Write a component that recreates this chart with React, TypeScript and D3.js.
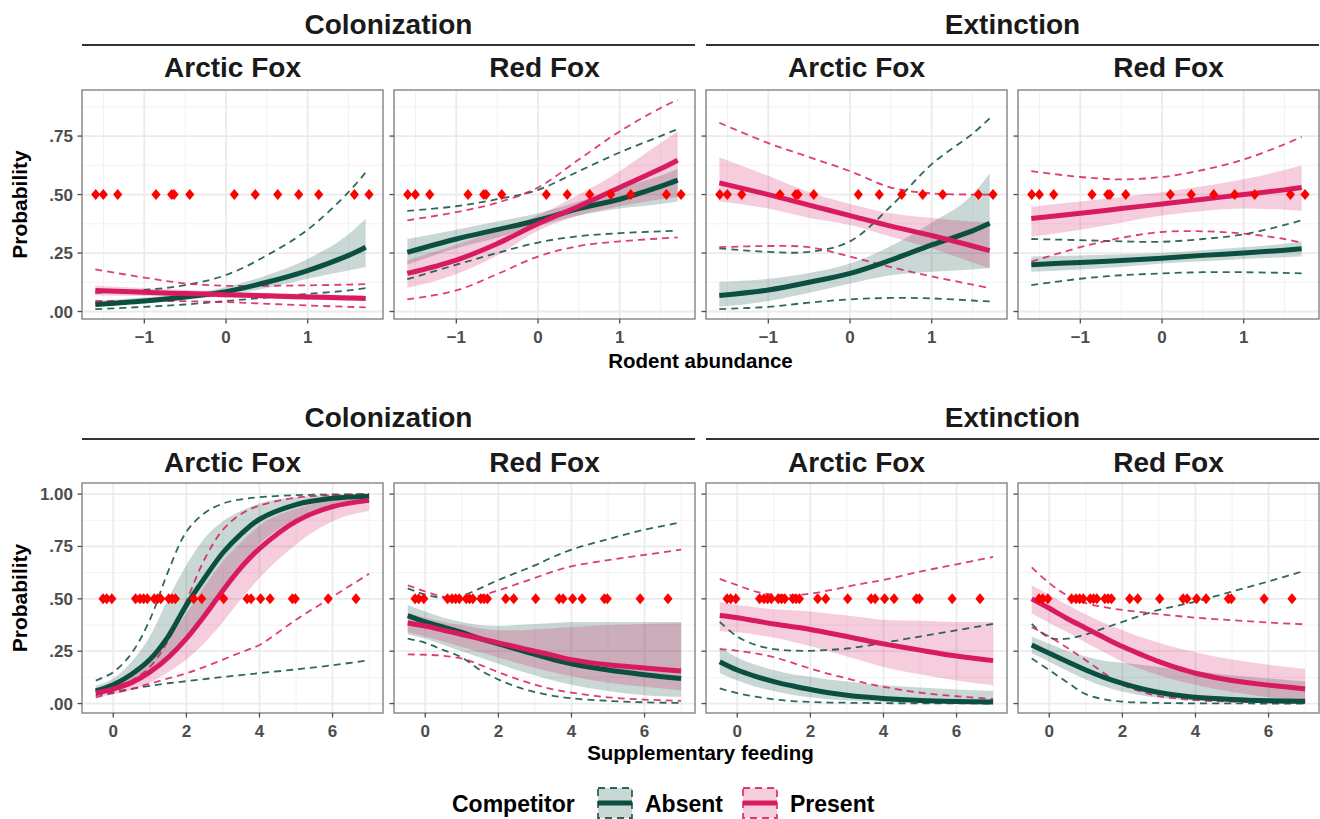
import React from 'react';
import * as d3 from 'd3';

// colours of the two competitor groups
const GREEN = '#0B4F40';
const PINK = '#D81B60';

const processes = ['Colonization', 'Extinction'];
const species = ['Arctic Fox', 'Red Fox'];
const competitorLabels = ['Absent', 'Present'];

// x values where the fitted curves were read
const rodentX = [-1.6, -1, -0.5, 0, 0.5, 1, 1.5, 1.71];
const feedingX = [-0.48, 0, 0.5, 1, 1.5, 2, 2.5, 3, 3.5, 4, 5, 6, 7];

// observed covariate values (drawn at p = .50)
const rodentPoints = [-1.595, -1.502, -1.326, -0.857, -0.665, -0.636, -0.444, 0.102, 0.358, 0.633, 0.89, 1.135, 1.572, 1.751];
const feedingPoints = [-0.28, -0.18, -0.04, 0.61, 0.73, 0.83, 0.93, 1.12, 1.21, 1.3, 1.52, 1.61, 1.7, 2.2, 2.42, 3.02, 3.66, 3.77, 4.03, 4.29, 4.9, 4.98, 5.88, 6.64];

// tick labels
const rodentTicks = [-1, 0, 1];
const rodentTickLabels = ['\u22121', '0', '1'];
const feedingTicks = [0, 2, 4, 6];
const feedingTickLabels = ['0', '2', '4', '6'];
const probTicksTop = [0, 0.25, 0.5, 0.75];
const probTicksBottom = [0, 0.25, 0.5, 0.75, 1];
const probTickLabels = ['.00', '.25', '.50', '.75', '1.00'];

// ---- Rodent abundance: Colonization, Arctic Fox
const caR_absFit = [0.03, 0.045, 0.062, 0.085, 0.125, 0.175, 0.24, 0.275];
const caR_absLo = [0.022, 0.035, 0.05, 0.07, 0.1, 0.14, 0.175, 0.19];
const caR_absHi = [0.045, 0.06, 0.075, 0.105, 0.155, 0.225, 0.33, 0.395];
const caR_absDLo = [0.01, 0.02, 0.03, 0.045, 0.06, 0.075, 0.09, 0.1];
const caR_absDHi = [0.08, 0.092, 0.113, 0.156, 0.24, 0.35, 0.51, 0.595];
const caR_preFit = [0.09, 0.082, 0.077, 0.072, 0.067, 0.062, 0.058, 0.056];
const caR_preLo = [0.07, 0.066, 0.063, 0.06, 0.055, 0.05, 0.046, 0.045];
const caR_preHi = [0.11, 0.1, 0.092, 0.085, 0.08, 0.075, 0.07, 0.068];
const caR_preDLo = [0.045, 0.045, 0.044, 0.04, 0.033, 0.026, 0.02, 0.018];
const caR_preDHi = [0.18, 0.145, 0.12, 0.11, 0.11, 0.112, 0.115, 0.117];

// ---- Rodent abundance: Colonization, Red Fox
const crR_absFit = [0.253, 0.31, 0.35, 0.39, 0.44, 0.48, 0.535, 0.562];
const crR_absLo = [0.2, 0.27, 0.315, 0.365, 0.41, 0.44, 0.46, 0.47];
const crR_absHi = [0.31, 0.35, 0.385, 0.42, 0.47, 0.53, 0.58, 0.61];
const crR_absDLo = [0.138, 0.2, 0.25, 0.295, 0.322, 0.335, 0.343, 0.345];
const crR_absDHi = [0.43, 0.45, 0.48, 0.52, 0.6, 0.68, 0.75, 0.78];
const crR_preFit = [0.163, 0.22, 0.29, 0.375, 0.45, 0.53, 0.61, 0.647];
const crR_preLo = [0.1, 0.16, 0.24, 0.345, 0.41, 0.45, 0.48, 0.49];
const crR_preHi = [0.22, 0.285, 0.345, 0.41, 0.5, 0.6, 0.72, 0.77];
const crR_preDLo = [0.052, 0.09, 0.16, 0.235, 0.28, 0.3, 0.312, 0.317];
const crR_preDHi = [0.39, 0.425, 0.465, 0.53, 0.65, 0.77, 0.87, 0.905];

// ---- Rodent abundance: Extinction, Arctic Fox
const eaR_absFit = [0.068, 0.092, 0.125, 0.163, 0.22, 0.285, 0.345, 0.377];
const eaR_absLo = [0.02, 0.045, 0.08, 0.12, 0.155, 0.17, 0.18, 0.185];
const eaR_absHi = [0.127, 0.14, 0.165, 0.205, 0.28, 0.38, 0.5, 0.59];
const eaR_absDLo = [0.01, 0.02, 0.038, 0.052, 0.058, 0.056, 0.047, 0.043];
const eaR_absDHi = [0.27, 0.255, 0.255, 0.3, 0.45, 0.63, 0.76, 0.826];
const eaR_preFit = [0.55, 0.5, 0.455, 0.41, 0.365, 0.325, 0.28, 0.26];
const eaR_preLo = [0.47, 0.44, 0.4, 0.37, 0.32, 0.27, 0.21, 0.185];
const eaR_preHi = [0.66, 0.58, 0.51, 0.46, 0.42, 0.4, 0.385, 0.38];
const eaR_preDLo = [0.275, 0.28, 0.275, 0.235, 0.19, 0.15, 0.115, 0.1];
const eaR_preDHi = [0.807, 0.72, 0.66, 0.6, 0.53, 0.505, 0.5, 0.5];

// ---- Rodent abundance: Extinction, Red Fox
const erR_absFit = [0.2, 0.21, 0.218, 0.228, 0.24, 0.25, 0.262, 0.268];
const erR_absLo = [0.17, 0.18, 0.19, 0.205, 0.215, 0.225, 0.232, 0.235];
const erR_absHi = [0.235, 0.24, 0.245, 0.25, 0.262, 0.275, 0.29, 0.3];
const erR_absDLo = [0.113, 0.14, 0.155, 0.163, 0.168, 0.168, 0.165, 0.163];
const erR_absDHi = [0.31, 0.305, 0.3, 0.298, 0.31, 0.33, 0.37, 0.39];
const erR_preFit = [0.398, 0.42, 0.44, 0.46, 0.48, 0.5, 0.52, 0.53];
const erR_preLo = [0.32, 0.35, 0.38, 0.41, 0.43, 0.44, 0.435, 0.43];
const erR_preHi = [0.448, 0.47, 0.49, 0.51, 0.535, 0.565, 0.605, 0.625];
const erR_preDLo = [0.213, 0.275, 0.315, 0.34, 0.343, 0.333, 0.31, 0.294];
const erR_preDHi = [0.6, 0.575, 0.565, 0.575, 0.605, 0.65, 0.715, 0.747];

// ---- Supplementary feeding: Colonization, Arctic Fox
const caF_absFit = [0.06, 0.09, 0.14, 0.21, 0.32, 0.47, 0.6, 0.72, 0.81, 0.88, 0.95, 0.98, 0.99];
const caF_absLo = [0.04, 0.06, 0.09, 0.14, 0.2, 0.3, 0.43, 0.55, 0.66, 0.76, 0.88, 0.94, 0.97];
const caF_absHi = [0.085, 0.12, 0.2, 0.32, 0.5, 0.66, 0.79, 0.87, 0.92, 0.955, 0.985, 0.995, 1.0];
const caF_absDLo = [0.04, 0.055, 0.07, 0.085, 0.097, 0.107, 0.117, 0.127, 0.136, 0.145, 0.163, 0.183, 0.207];
const caF_absDHi = [0.11, 0.15, 0.24, 0.4, 0.63, 0.82, 0.91, 0.955, 0.975, 0.985, 0.995, 0.998, 1.0];
const caF_preFit = [0.05, 0.07, 0.1, 0.15, 0.22, 0.31, 0.42, 0.54, 0.65, 0.74, 0.87, 0.94, 0.97];
const caF_preLo = [0.03, 0.045, 0.065, 0.1, 0.15, 0.21, 0.29, 0.39, 0.5, 0.6, 0.76, 0.87, 0.92];
const caF_preHi = [0.075, 0.1, 0.14, 0.21, 0.31, 0.43, 0.56, 0.68, 0.77, 0.85, 0.93, 0.97, 0.985];
const caF_preDLo = [0.03, 0.05, 0.07, 0.095, 0.12, 0.145, 0.175, 0.21, 0.245, 0.28, 0.4, 0.51, 0.62];
const caF_preDHi = [0.06, 0.08, 0.11, 0.175, 0.3, 0.49, 0.69, 0.83, 0.905, 0.945, 0.983, 0.995, 1.0];

// ---- Supplementary feeding: Colonization, Red Fox
const crF_absFit = [0.42, 0.39, 0.365, 0.34, 0.31, 0.285, 0.26, 0.235, 0.21, 0.19, 0.16, 0.138, 0.12];
const crF_absLo = [0.33, 0.31, 0.28, 0.25, 0.22, 0.19, 0.16, 0.135, 0.11, 0.09, 0.06, 0.04, 0.032];
const crF_absHi = [0.47, 0.44, 0.41, 0.39, 0.375, 0.37, 0.375, 0.38, 0.385, 0.39, 0.39, 0.39, 0.39];
const crF_absDLo = [0.31, 0.29, 0.255, 0.22, 0.16, 0.115, 0.08, 0.055, 0.037, 0.025, 0.013, 0.006, 0.003];
const crF_absDHi = [0.55, 0.52, 0.505, 0.515, 0.55, 0.59, 0.625, 0.66, 0.7, 0.735, 0.785, 0.83, 0.865];
const crF_preFit = [0.385, 0.37, 0.35, 0.33, 0.31, 0.29, 0.27, 0.25, 0.23, 0.21, 0.185, 0.17, 0.155];
const crF_preLo = [0.34, 0.32, 0.295, 0.27, 0.245, 0.22, 0.195, 0.17, 0.15, 0.13, 0.1, 0.08, 0.064];
const crF_preHi = [0.43, 0.41, 0.39, 0.375, 0.36, 0.35, 0.35, 0.355, 0.36, 0.365, 0.375, 0.38, 0.383];
const crF_preDLo = [0.235, 0.233, 0.228, 0.215, 0.185, 0.15, 0.118, 0.09, 0.068, 0.052, 0.03, 0.019, 0.013];
const crF_preDHi = [0.565, 0.535, 0.51, 0.505, 0.515, 0.54, 0.57, 0.6, 0.63, 0.655, 0.685, 0.71, 0.735];

// ---- Supplementary feeding: Extinction, Arctic Fox
const eaF_absFit = [0.2, 0.16, 0.13, 0.105, 0.085, 0.067, 0.052, 0.04, 0.031, 0.024, 0.015, 0.01, 0.007];
const eaF_absLo = [0.145, 0.11, 0.08, 0.06, 0.042, 0.03, 0.021, 0.015, 0.011, 0.008, 0.004, 0.002, 0.001];
const eaF_absHi = [0.27, 0.22, 0.185, 0.16, 0.14, 0.128, 0.115, 0.105, 0.095, 0.088, 0.077, 0.067, 0.06];
const eaF_absDLo = [0.072, 0.05, 0.033, 0.02, 0.012, 0.008, 0.005, 0.004, 0.003, 0.002, 0.001, 0.001, 0.0];
const eaF_absDHi = [0.39, 0.32, 0.28, 0.26, 0.253, 0.252, 0.256, 0.263, 0.275, 0.29, 0.32, 0.35, 0.38];
const eaF_preFit = [0.42, 0.41, 0.395, 0.38, 0.367, 0.354, 0.337, 0.32, 0.302, 0.285, 0.255, 0.227, 0.205];
const eaF_preLo = [0.345, 0.34, 0.33, 0.315, 0.295, 0.275, 0.25, 0.225, 0.2, 0.175, 0.14, 0.11, 0.088];
const eaF_preHi = [0.485, 0.47, 0.46, 0.45, 0.445, 0.44, 0.43, 0.42, 0.41, 0.4, 0.395, 0.39, 0.39];
const eaF_preDLo = [0.26, 0.252, 0.24, 0.222, 0.195, 0.167, 0.142, 0.12, 0.098, 0.08, 0.052, 0.035, 0.022];
const eaF_preDHi = [0.595, 0.565, 0.535, 0.52, 0.518, 0.525, 0.54, 0.558, 0.575, 0.59, 0.63, 0.665, 0.7];

// ---- Supplementary feeding: Extinction, Red Fox
const erF_absFit = [0.28, 0.24, 0.2, 0.16, 0.125, 0.096, 0.072, 0.053, 0.04, 0.03, 0.02, 0.014, 0.011];
const erF_absLo = [0.24, 0.2, 0.155, 0.115, 0.082, 0.058, 0.04, 0.028, 0.02, 0.014, 0.007, 0.004, 0.002];
const erF_absHi = [0.32, 0.285, 0.25, 0.225, 0.205, 0.195, 0.185, 0.175, 0.165, 0.155, 0.135, 0.12, 0.105];
const erF_absDLo = [0.215, 0.16, 0.1, 0.045, 0.02, 0.009, 0.005, 0.003, 0.002, 0.001, 0.001, 0.0, 0.0];
const erF_absDHi = [0.38, 0.315, 0.31, 0.33, 0.36, 0.39, 0.42, 0.447, 0.467, 0.487, 0.535, 0.583, 0.635];
const erF_preFit = [0.5, 0.455, 0.405, 0.36, 0.315, 0.272, 0.235, 0.2, 0.17, 0.145, 0.11, 0.088, 0.07];
const erF_preLo = [0.43, 0.385, 0.34, 0.29, 0.245, 0.2, 0.165, 0.135, 0.11, 0.09, 0.055, 0.03, 0.01];
const erF_preHi = [0.565, 0.52, 0.47, 0.425, 0.385, 0.35, 0.318, 0.29, 0.265, 0.245, 0.21, 0.185, 0.165];
const erF_preDLo = [0.365, 0.32, 0.265, 0.207, 0.145, 0.09, 0.058, 0.035, 0.024, 0.016, 0.009, 0.006, 0.004];
const erF_preDHi = [0.65, 0.575, 0.515, 0.48, 0.46, 0.447, 0.437, 0.427, 0.418, 0.41, 0.398, 0.387, 0.378];

const FONT = '"Liberation Sans", Arial, sans-serif';
const colLeft = [82, 394, 706, 1018];
const panelW = 301;

// one entry per row of the figure (rodent abundance, supplementary feeding)
const rows = [
  {
    top: 90, bottom: 319, lineY: 45, processY: 34, speciesY: 77, tickY: 343, titleY: 368,
    title: 'Rodent abundance', xDomain: [-1.763, 1.922], yDomain: [-0.032, 0.947],
    xs: rodentX, points: rodentPoints, xTicks: rodentTicks, xLabels: rodentTickLabels,
    xMinor: [-1.5, -0.5, 0.5, 1.5], yTicks: probTicksTop, yMinor: [0.125, 0.375, 0.625, 0.875],
    panels: [
      [[caR_absFit, caR_absLo, caR_absHi, caR_absDLo, caR_absDHi], [caR_preFit, caR_preLo, caR_preHi, caR_preDLo, caR_preDHi]],
      [[crR_absFit, crR_absLo, crR_absHi, crR_absDLo, crR_absDHi], [crR_preFit, crR_preLo, crR_preHi, crR_preDLo, crR_preDHi]],
      [[eaR_absFit, eaR_absLo, eaR_absHi, eaR_absDLo, eaR_absDHi], [eaR_preFit, eaR_preLo, eaR_preHi, eaR_preDLo, eaR_preDHi]],
      [[erR_absFit, erR_absLo, erR_absHi, erR_absDLo, erR_absDHi], [erR_preFit, erR_preLo, erR_preHi, erR_preDLo, erR_preDHi]],
    ],
  },
  {
    top: 483, bottom: 713, lineY: 439, processY: 427, speciesY: 472, tickY: 737, titleY: 760,
    title: 'Supplementary feeding', xDomain: [-0.856, 7.38], yDomain: [-0.045, 1.053],
    xs: feedingX, points: feedingPoints, xTicks: feedingTicks, xLabels: feedingTickLabels,
    xMinor: [1, 3, 5, 7], yTicks: probTicksBottom, yMinor: [0.125, 0.375, 0.625, 0.875],
    panels: [
      [[caF_absFit, caF_absLo, caF_absHi, caF_absDLo, caF_absDHi], [caF_preFit, caF_preLo, caF_preHi, caF_preDLo, caF_preDHi]],
      [[crF_absFit, crF_absLo, crF_absHi, crF_absDLo, crF_absDHi], [crF_preFit, crF_preLo, crF_preHi, crF_preDLo, crF_preDHi]],
      [[eaF_absFit, eaF_absLo, eaF_absHi, eaF_absDLo, eaF_absDHi], [eaF_preFit, eaF_preLo, eaF_preHi, eaF_preDLo, eaF_preDHi]],
      [[erF_absFit, erF_absLo, erF_absHi, erF_absDLo, erF_absDHi], [erF_preFit, erF_preLo, erF_preHi, erF_preDLo, erF_preDHi]],
    ],
  },
];

const groupColors = [GREEN, PINK];
const smooth = d3.curveCatmullRom.alpha(0.5);

function Panel({ row, col }: { row: any; col: number }) {
  const left = colLeft[col];
  const x = d3.scaleLinear().domain(row.xDomain).range([left, left + panelW]);
  const y = d3.scaleLinear().domain(row.yDomain).range([row.bottom, row.top]);
  const xs: number[] = row.xs;

  const line = (vals: number[]) =>
    d3.line<number>().x((_, i) => x(xs[i])).y((v) => y(v)).curve(smooth)(vals) || '';
  const area = (lo: number[], hi: number[]) =>
    d3.area<number>().x((_, i) => x(xs[i])).y0((_, i) => y(lo[i])).y1((_, i) => y(hi[i]))
      .curve(d3.curveMonotoneX)(xs) || '';

  const groups = row.panels[col];
  const [x0, x1] = [left, left + panelW];

  return (
    <g>
      {/* grid */}
      {row.yMinor.map((v: number) => (
        <line key={'ym' + v} x1={x0} x2={x1} y1={y(v)} y2={y(v)} stroke="#F2F2F2" strokeWidth={1} />
      ))}
      {row.xMinor.filter((v: number) => x(v) < x1).map((v: number) => (
        <line key={'xm' + v} x1={x(v)} x2={x(v)} y1={row.top} y2={row.bottom} stroke="#F2F2F2" strokeWidth={1} />
      ))}
      {row.yTicks.map((v: number) => (
        <line key={'yM' + v} x1={x0} x2={x1} y1={y(v)} y2={y(v)} stroke="#EBEBEB" strokeWidth={1.8} />
      ))}
      {row.xTicks.map((v: number) => (
        <line key={'xM' + v} x1={x(v)} x2={x(v)} y1={row.top} y2={row.bottom} stroke="#EBEBEB" strokeWidth={1.8} />
      ))}

      {/* confidence ribbons */}
      {groups.map((g: number[][], gi: number) => (
        <path key={'rib' + gi} d={area(g[1], g[2])} fill={groupColors[gi]} fillOpacity={0.22} />
      ))}
      {/* dashed intervals */}
      {groups.map((g: number[][], gi: number) => (
        <g key={'dash' + gi}>
          {[g[3], g[4]].map((vals, k) => (
            <path key={k} d={line(vals)} fill="none" stroke={groupColors[gi]} strokeOpacity={0.85}
              strokeWidth={1.8} strokeDasharray="7,5" />
          ))}
        </g>
      ))}
      {/* fitted lines */}
      {groups.map((g: number[][], gi: number) => (
        <path key={'fit' + gi} d={line(g[0])} fill="none" stroke={groupColors[gi]} strokeWidth={5} />
      ))}
      {/* observations */}
      {row.points.map((p: number, i: number) => {
        const px = x(p);
        const py = y(0.5);
        return <path key={'pt' + i} d={`M${px},${py - 5.5}L${px + 4.6},${py}L${px},${py + 5.5}L${px - 4.6},${py}Z`} fill="#FF0000" />;
      })}

      {/* border */}
      <rect x={x0} y={row.top} width={panelW} height={row.bottom - row.top} fill="none" stroke="#7A7A7A" strokeWidth={1.3} />

      {/* ticks */}
      {row.xTicks.map((v: number, i: number) => (
        <g key={'xt' + v}>
          <line x1={x(v)} x2={x(v)} y1={row.bottom} y2={row.bottom + 4.5} stroke="#4D4D4D" strokeWidth={1.3} />
          <text x={x(v)} y={row.tickY} textAnchor="middle" fontFamily={FONT} fontWeight="bold" fontSize={17} fill="#4D4D4D">
            {row.xLabels[i]}
          </text>
        </g>
      ))}
      {row.yTicks.map((v: number, i: number) => (
        <g key={'yt' + v}>
          <line x1={x0 - 4.5} x2={x0} y1={y(v)} y2={y(v)} stroke="#4D4D4D" strokeWidth={1.3} />
          {col === 0 && (
            <text x={x0 - 9} y={y(v) + 6} textAnchor="end" fontFamily={FONT} fontWeight="bold" fontSize={17} fill="#4D4D4D">
              {probTickLabels[i]}
            </text>
          )}
        </g>
      ))}

      {/* species strip */}
      <text x={left + panelW / 2} y={row.speciesY} textAnchor="middle" fontFamily={FONT} fontWeight="bold" fontSize={28} fill="#1A1A1A">
        {species[col % 2]}
      </text>
    </g>
  );
}

export default function App() {
  const legendItems = [
    { key: 598, text: 645 },
    { key: 743, text: 790 },
  ];
  return (
    <svg width={1320} height={819} style={{ position: 'absolute', left: 0, top: 0, background: '#fff' }}>
      <rect width={1320} height={819} fill="#fff" />
      {rows.map((row, ri) => (
        <g key={ri}>
          {processes.map((p, pi) => {
            const l = colLeft[pi * 2];
            const r = colLeft[pi * 2 + 1] + panelW;
            return (
              <g key={p}>
                <text x={(l + r) / 2} y={row.processY} textAnchor="middle" fontFamily={FONT} fontWeight="bold" fontSize={28} fill="#1A1A1A">
                  {p}
                </text>
                <line x1={l} x2={r} y1={row.lineY} y2={row.lineY} stroke="#333" strokeWidth={2} />
              </g>
            );
          })}
          {[0, 1, 2, 3].map((c) => <Panel key={c} row={row} col={c} />)}
          <text x={(colLeft[0] + colLeft[3] + panelW) / 2} y={row.titleY} textAnchor="middle" fontFamily={FONT} fontWeight="bold" fontSize={20.5} fill="#000">
            {row.title}
          </text>
          <text transform={`translate(27,${(row.top + row.bottom) / 2}) rotate(-90)`} textAnchor="middle" fontFamily={FONT} fontWeight="bold" fontSize={21} fill="#000">
            Probability
          </text>
        </g>
      ))}

      {/* legend */}
      <text x={452} y={812} fontFamily={FONT} fontWeight="bold" fontSize={23} fill="#000">Competitor</text>
      {legendItems.map((it, i) => (
        <g key={i}>
          <rect x={it.key} y={788} width={34} height={30} fill={groupColors[i]} fillOpacity={0.22}
            stroke={groupColors[i]} strokeOpacity={0.85} strokeWidth={1.8} strokeDasharray="7,5" />
          <line x1={it.key} x2={it.key + 34} y1={803} y2={803} stroke={groupColors[i]} strokeWidth={5} />
          <text x={it.text} y={812} fontFamily={FONT} fontWeight="bold" fontSize={23} fill="#000">{competitorLabels[i]}</text>
        </g>
      ))}
    </svg>
  );
}
